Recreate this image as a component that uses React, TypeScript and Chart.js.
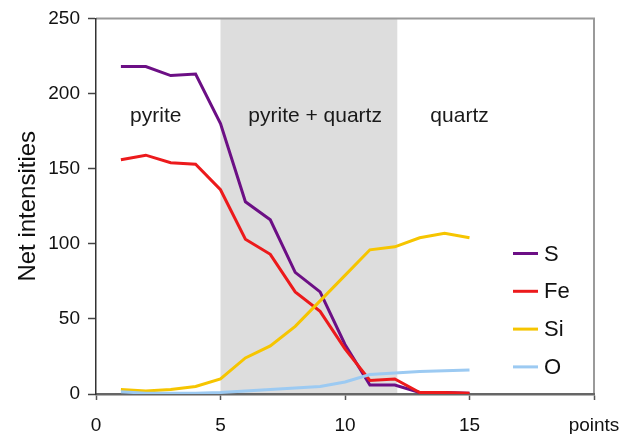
import React, { useEffect, useRef } from "react";
import { Chart, registerables } from "chart.js";

Chart.register(...registerables);

// ---- data ----
const points = [1, 2, 3, 4, 5, 6, 7, 8, 9, 10, 11, 12, 13, 14, 15];
const sValues = [218, 218, 212, 213, 180, 128, 116, 81, 68, 33, 6, 6, 1, 1, 0.5];
const feValues = [156, 159, 154, 153, 136, 103, 93, 68, 55, 30, 9, 10, 1, 1, 0.5];
const siValues = [3, 2, 3, 5, 10, 24, 32, 45, 62, 79, 96, 98, 104, 107, 104];
const oValues = [1.5, 0.5, 0.5, 0.5, 1, 2, 3, 4, 5, 8, 13, 14, 15, 15.5, 16];
const seriesNames = ["S", "Fe", "Si", "O"];
const seriesColors = ["#6c0f85", "#ec1a1c", "#f6c500", "#9ccaf2"];
const xTickValues = [0, 5, 10, 15, 20];
const xTickLabels = ["0", "5", "10", "15", "points"];
const yTickValues = [0, 50, 100, 150, 200, 250];
const zoneStart = 5;
const zoneEnd = 12.1;
const zoneLabels = ["pyrite", "pyrite + quartz", "quartz"];
const zoneLabelX = [2.4, 8.8, 14.6];
const zoneLabelY = 181;

const FONT = "'Liberation Sans', Arial, sans-serif";

const decorPlugin = {
  id: "decor",
  beforeDraw(chart: any) {
    const { ctx, chartArea, scales } = chart;
    const x = scales.x;
    const y = scales.y;
    ctx.save();
    const x0 = x.getPixelForValue(zoneStart);
    const x1 = x.getPixelForValue(zoneEnd);
    ctx.fillStyle = "#dddddd";
    ctx.fillRect(x0, chartArea.top, x1 - x0, chartArea.bottom - chartArea.top);
    // top / right border
    ctx.strokeStyle = "#9a9a9a";
    ctx.lineWidth = 2;
    ctx.beginPath();
    ctx.moveTo(chartArea.left, chartArea.top);
    ctx.lineTo(chartArea.right, chartArea.top);
    ctx.lineTo(chartArea.right, chartArea.bottom);
    ctx.stroke();
    // zone labels
    ctx.fillStyle = "#1a1a1a";
    ctx.font = `21px ${FONT}`;
    ctx.textAlign = "center";
    ctx.textBaseline = "alphabetic";
    zoneLabels.forEach((t, i) => {
      ctx.fillText(t, x.getPixelForValue(zoneLabelX[i]), y.getPixelForValue(zoneLabelY));
    });
    ctx.restore();
  },
  afterDraw(chart: any) {
    const { ctx, chartArea } = chart;
    ctx.save();
    const lx0 = chartArea.right - 81;
    const lx1 = chartArea.right - 56;
    const tx = chartArea.right - 50;
    ctx.font = `22px ${FONT}`;
    ctx.textAlign = "left";
    ctx.textBaseline = "middle";
    chart.data.datasets.forEach((ds: any, i: number) => {
      const yy = chartArea.top + 235 + i * 37.8;
      ctx.strokeStyle = ds.borderColor;
      ctx.lineWidth = 3;
      ctx.beginPath();
      ctx.moveTo(lx0, yy);
      ctx.lineTo(lx1, yy);
      ctx.stroke();
      ctx.fillStyle = "#111";
      ctx.fillText(ds.label, tx, yy + 1);
    });
    ctx.restore();
  },
};

export default function App() {
  const ref = useRef<HTMLCanvasElement | null>(null);
  useEffect(() => {
    if (!ref.current) return;
    const series = [sValues, feValues, siValues, oValues];
    const chart = new Chart(ref.current, {
      type: "line",
      data: {
        datasets: series.map((vals, i) => ({
          label: seriesNames[i],
          data: points.map((p, j) => ({ x: p, y: vals[j] })),
          borderColor: seriesColors[i],
          backgroundColor: seriesColors[i],
          borderWidth: 3,
          pointRadius: 0,
          tension: 0,
          fill: false,
          order: 4 - i,
        })),
      },
      options: {
        animation: false,
        responsive: false,
        devicePixelRatio: 1,
        layout: { padding: { left: 0, right: 29, top: 18.5, bottom: 0 } },
        plugins: { legend: { display: false }, tooltip: { enabled: false } },
        scales: {
          x: {
            type: "linear",
            min: 0,
            max: 20,
            afterBuildTicks: (s: any) => {
              s.ticks = xTickValues.map((v) => ({ value: v }));
            },
            ticks: {
              autoSkip: false,
              maxRotation: 0,
              color: "#111",
              font: { size: 19, family: FONT },
              padding: 14,
              callback: (v: any) => {
                const k = xTickValues.indexOf(Number(v));
                return k >= 0 ? xTickLabels[k] : "";
              },
            },
            grid: { drawOnChartArea: false, drawTicks: true, tickLength: 6, tickColor: "#555", tickWidth: 1.5 },
            border: { display: true, color: "#666", width: 2.5 },
            afterFit: (s: any) => {
              s.height = 40;
              s.paddingLeft = 0;
              s.paddingRight = 0;
            },
          },
          y: {
            type: "linear",
            min: 0,
            max: 250,
            afterBuildTicks: (s: any) => {
              s.ticks = yTickValues.map((v) => ({ value: v }));
            },
            ticks: {
              color: "#111",
              font: { size: 19, family: FONT },
              padding: 8,
            },
            grid: { drawOnChartArea: false, drawTicks: true, tickLength: 8, tickColor: "#444", tickWidth: 1.5 },
            border: { display: true, color: "#333", width: 1.5 },
            title: {
              display: true,
              text: "Net intensities",
              color: "#111",
              font: { size: 24, family: FONT },
              padding: { top: 14, bottom: 0 },
            },
            afterFit: (s: any) => {
              s.width = 96;
              s.paddingTop = 0;
              s.paddingBottom = 0;
            },
          },
        },
      },
      plugins: [decorPlugin],
    } as any);
    return () => chart.destroy();
  }, []);
  return (
    <div style={{ position: "absolute", left: 0, top: 0, width: 623, height: 434, background: "#fff" }}>
      <canvas ref={ref} width={623} height={434} style={{ display: "block" }} />
    </div>
  );
}
